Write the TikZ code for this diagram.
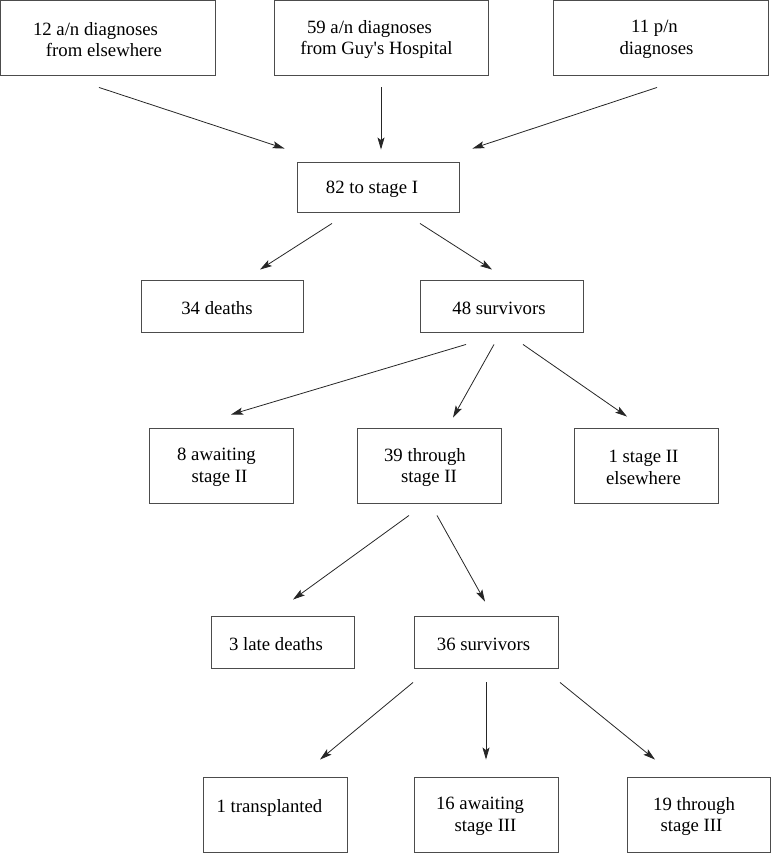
\documentclass[tikz,border=0pt]{standalone}
\usepackage{fontspec}
\setmainfont{Liberation Serif}
\usetikzlibrary{arrows.meta,calc}
% one line of box text, moved #1pt sideways and 2pt down
\newcommand\sx[2]{\raisebox{-2pt}[\height][\depth]{\kern#1pt#2\kern-#1pt}}
\begin{document}
\begin{tikzpicture}[x=1pt,y=-1pt,
  box/.style={draw=black!70,line width=0.9pt,align=center,inner sep=0pt,
    font=\fontsize{18.75}{21.5}\selectfont},
  tall/.style={box,minimum height=75pt},
  short/.style={box,minimum height=52pt},
  arr/.style={draw=black!85,line width=0.8pt,
    -{Stealth[length=12pt,width=7pt,inset=2.5pt]}}]
\useasboundingbox (0,0) rectangle (771,853);
% row 0
\node[tall,minimum width=215pt] (b1) at (107.5,37.5)
  {\sx{-12}{12 a/n diagnoses}\\\sx{-3.5}{from elsewhere}};
\node[tall,minimum width=214pt] (b2) at (381,37.5)
  {\sx{-11.5}{59 a/n diagnoses}\\\sx{-4.5}{from Guy\textquotesingle s Hospital}};
\node[tall,minimum width=215pt] (b3) at (660.5,37.5)
  {\sx{-6}{11 p/n}\\\sx{-4}{diagnoses}};
% row 1
\node[box,minimum width=162pt,minimum height=50pt] (b4) at (378,187)
  {\sx{-6}{82 to stage I}};
% row 2
\node[short,minimum width=162pt] (b5) at (222,306) {\sx{-5}{34 deaths}};
\node[short,minimum width=163pt] (b6) at (501.5,306) {\sx{-2.5}{48 survivors}};
% row 3
\node[tall,minimum width=144pt] (b7) at (221,465.5)
  {\sx{-4.5}{8 awaiting}\\\sx{-1.5}{stage II}};
\node[tall,minimum width=144pt] (b8) at (429,465.5)
  {\sx{-4}{39 through}\\\sx{0}{stage II}};
\node[tall,minimum width=144pt] (b9) at (646,465.5)
  {\sx{-2.5}{1 stage II}\\\sx{-2.5}{elsewhere}};
% row 4
\node[short,minimum width=143pt] (b10) at (282.5,642) {\sx{-6.5}{3 late deaths}};
\node[short,minimum width=144pt] (b11) at (486,642) {\sx{-2.5}{36 survivors}};
% row 5
\node[tall,minimum width=144pt] (b12) at (275,814.5)
  {\sx{-5.5}{1 transplanted}\\\mbox{}};
\node[tall,minimum width=144pt] (b13) at (486,814.5)
  {\sx{-6}{16 awaiting}\\\sx{-0.5}{stage III}};
\node[tall,minimum width=143pt] (b14) at (698.5,814.5)
  {\sx{-4.5}{19 through}\\\sx{-7}{stage III}};
% connectors
\draw[arr] ($(b1.south)+(-8.5,12)$) -- ($(b4.north west)+(-12,-13)$);
\draw[arr] ($(b2.south)+(0,12)$) -- ($(b4.north)+(3,-12)$);
\draw[arr] ($(b3.south)+(-3.5,12)$) -- ($(b4.north east)+(13,-13)$);
\draw[arr] ($(b4.south)+(-46,11)$) -- ($(b5.north)+(38,-10)$);
\draw[arr] ($(b4.south)+(42,11)$) -- ($(b6.north)+(-9.5,-10)$);
\draw[arr] ($(b6.south)+(-35.5,12)$) -- ($(b7.north)+(10,-13)$);
\draw[arr] ($(b6.south)+(-7.5,12)$) -- ($(b8.north)+(24,-10)$);
\draw[arr] ($(b6.south)+(21.5,12)$) -- ($(b9.north)+(-19,-11)$);
\draw[arr] ($(b8.south)+(-20,12)$) -- ($(b10.north)+(10.5,-16)$);
\draw[arr] ($(b8.south)+(8,12)$) -- ($(b11.north)+(-1,-14)$);
\draw[arr] ($(b11.south)+(-73,14)$) -- ($(b12.north)+(45,-17)$);
\draw[arr] ($(b11.south)+(0,14)$) -- ($(b13.north)+(0,-17)$);
\draw[arr] ($(b11.south)+(74,14)$) -- ($(b14.north)+(-43.5,-17)$);
\end{tikzpicture}
\end{document}
